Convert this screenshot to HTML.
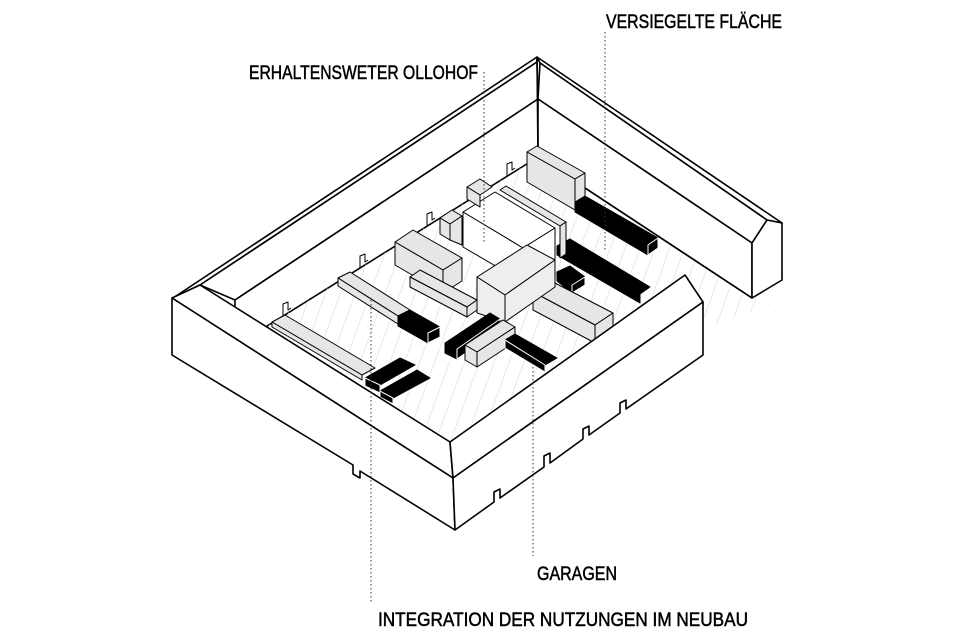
<!DOCTYPE html>
<html><head><meta charset="utf-8"><style>html,body{margin:0;padding:0;background:#fff}svg{display:block}</style></head>
<body>
<svg width="960" height="640" viewBox="0 0 960 640" xmlns="http://www.w3.org/2000/svg">
<defs>
<pattern id="h" width="14" height="14" patternUnits="userSpaceOnUse" patternTransform="rotate(20)">
<line x1="0" y1="0" x2="0" y2="14" stroke="#d4d4d4" stroke-width="1"/>
</pattern>
</defs>
<rect width="960" height="640" fill="#fff"/>

<g stroke="#000" stroke-width="1.6" fill="#fff" stroke-linejoin="round">
<!-- back-left wall -->
<polygon points="537,57 173,298 200,285 537,62"/>
<polygon points="537,62 200,285 235,300 538,99"/>
<polygon points="538,99 235,300 235,346 538,157"/>
<!-- back-right wall -->
<polygon points="537,57 782,223 767,220 540,63"/>
<polygon points="540,63 767,220 752,243 538,99"/>
<polygon points="538,99 752,243 752,298 538,157"/>
<polygon points="752,243 767,220 782,223 782,280 752,298"/>
<line x1="537" y1="57" x2="538" y2="157"/>
</g>
<polygon points="235,346 538,157 770,305 700,330 453,460" fill="url(#h)"/>
<polygon points="235,346 538,157 770,305 700,330 453,460" fill="#fff" opacity="0"/>
<line x1="538" y1="157" x2="752" y2="298" stroke="#000" stroke-width="1.6"/>

<g stroke="#000" stroke-width="1" stroke-linejoin="round">
<!-- floor tabs -->
<polyline fill="none" points="507,176 507,164 512,162 512,170 515,168"/>
<polyline fill="none" points="427,226 427,214 432,212 432,220 435,218"/>
<polyline fill="none" points="360,268 360,256 365,254 365,262 368,260"/>
<polyline fill="none" points="283,316 283,304 288,302 288,310 291,308"/>

<polygon fill="#e6e6e6" points="527,152 537,146 585,173 575,179"/>
<polygon fill="#e6e6e6" points="527,152 575,179 575,210 527,182"/>
<polygon fill="#e6e6e6" points="575,179 585,173 585,202 575,210"/>
<polygon fill="#000" points="575,202 585,196 658,238 648,245"/>
<polygon fill="#000" points="575,202 648,245 648,255 575,212"/>
<polygon fill="#000" stroke="#fff" points="648,245 658,238 658,248 648,255"/>
<polygon fill="#000" points="557,246 570,239 650,287 640,294"/>
<polygon fill="#000" points="557,246 640,294 640,303 557,255"/>
<polygon fill="#fff" points="463,212 495,192 555,228 523,248"/>
<polygon fill="#fff" points="463,212 523,248 523,282 463,247"/>
<polygon fill="#fff" points="523,248 555,228 555,262 523,282"/>
<polygon fill="#e6e6e6" points="500,190 506,186 566,222 560,226"/>
<polygon fill="#e6e6e6" points="560,226 566,222 566,254 560,258"/>
<polygon fill="#e6e6e6" points="467,187 480,179 492,187 480,195"/>
<polygon fill="#e6e6e6" points="467,187 480,195 480,207 467,199"/>
<polygon fill="#e6e6e6" points="440,218 452,210 462,216 450,224"/>
<polygon fill="#e6e6e6" points="440,218 450,224 450,240 440,234"/>
<polygon fill="#e6e6e6" points="450,224 462,216 462,245 450,240"/>
<polygon fill="#000" points="557,272 570,266 585,277 572,285"/>
<polygon fill="#000" points="557,272 572,285 572,293 557,281"/>
<polygon fill="#000" stroke="#fff" points="572,285 585,277 585,285 572,293"/>
<polygon fill="#e6e6e6" points="395,242 413,230 462,258 443,270"/>
<polygon fill="#e6e6e6" points="395,242 443,270 443,293 395,265"/>
<polygon fill="#e6e6e6" points="443,270 462,258 462,281 443,293"/>
<polygon fill="#e6e6e6" points="410,277 420,270 477,300 467,307"/>
<polygon fill="#e6e6e6" points="410,277 467,307 467,317 410,287"/>
<polygon fill="#e6e6e6" points="467,307 477,300 477,310 467,317"/>
<polygon fill="#e6e6e6" points="533,292 553,282 613,313 595,325"/>
<polygon fill="#e6e6e6" points="533,292 595,325 595,343 533,310"/>
<polygon fill="#e6e6e6" points="595,325 613,313 613,331 595,343"/>
<polygon fill="#eeeeee" points="477,277 527,245 555,260 505,295"/>
<polygon fill="#eeeeee" points="477,277 505,295 505,322 477,313"/>
<polygon fill="#eeeeee" points="505,295 555,260 555,287 505,322"/>
<polygon fill="#000" points="445,343 490,313 500,319 457,349"/>
<polygon fill="#000" points="445,343 457,349 457,359 445,353"/>
<polygon fill="#000" stroke="#fff" points="457,349 500,319 500,329 457,359"/>
<polygon fill="#e6e6e6" points="465,345 503,320 515,327 477,352"/>
<polygon fill="#e6e6e6" points="465,345 477,352 477,367 465,360"/>
<polygon fill="#e6e6e6" points="477,352 515,327 515,342 477,367"/>
<polygon fill="#000" points="505,340 515,334 557,358 545,365"/>
<polygon fill="#000" stroke="#fff" points="505,340 545,365 545,372 505,348"/>
<polygon fill="#e6e6e6" points="338,278 350,272 410,310 398,316"/>
<polygon fill="#e6e6e6" points="338,278 398,316 398,324 338,286"/>
<polygon fill="#000" points="398,316 410,310 440,327 428,333"/>
<polygon fill="#000" points="398,316 428,333 428,343 398,326"/>
<polygon fill="#000" stroke="#fff" points="428,333 440,327 440,337 428,343"/>
<polygon fill="#e6e6e6" points="272,322 285,315 375,368 362,375"/>
<polygon fill="#e6e6e6" points="272,322 362,375 362,380 272,327"/>
<polygon fill="#000" points="365,378 400,358 415,365 380,385"/>
<polygon fill="#000" stroke="#fff" points="365,378 380,385 380,393 365,386"/>
<polygon fill="#000" points="380,391 417,370 430,378 393,398"/>
<polygon fill="#000" stroke="#fff" points="380,391 393,398 393,404 380,397"/>
</g>

<g stroke="#000" stroke-width="1.6" fill="#fff" stroke-linejoin="round">
<!-- front-left wall -->
<polygon points="172,298 200,285 450,442 453,478"/>
<polygon points="172,298 453,478 455,530 360,471 360,478 353,474 353,465 172,355"/>
<!-- front-right wall -->
<polygon points="450,442 685,275 703,302 453,478"/>
<polygon points="453,478 703,302 703,355 626,409 626,400 620,403 620,413 589,435 589,426 583,429 583,439 550,463 550,453 544,456 544,467 500,498 500,489 494,492 494,502 455,530"/>
</g>

<g stroke="#333" stroke-width="1" stroke-dasharray="1.5,2.5" fill="none">
<line x1="484" y1="72" x2="484" y2="243"/>
<line x1="605" y1="32" x2="605" y2="250"/>
<line x1="371" y1="300" x2="371" y2="603"/>
<line x1="533" y1="355" x2="533" y2="556"/>
</g>

<g font-family="Liberation Sans, sans-serif" font-size="19" fill="#000" stroke="#000" stroke-width="0.5">
<text x="606" y="28" textLength="176" lengthAdjust="spacingAndGlyphs">VERSIEGELTE FLÄCHE</text>
<text x="249" y="79" textLength="229" lengthAdjust="spacingAndGlyphs">ERHALTENSWETER OLLOHOF</text>
<text x="537" y="580" textLength="80" lengthAdjust="spacingAndGlyphs">GARAGEN</text>
<text x="378" y="626" textLength="370" lengthAdjust="spacingAndGlyphs">INTEGRATION DER NUTZUNGEN IM NEUBAU</text>
</g>
</svg>
</body></html>
